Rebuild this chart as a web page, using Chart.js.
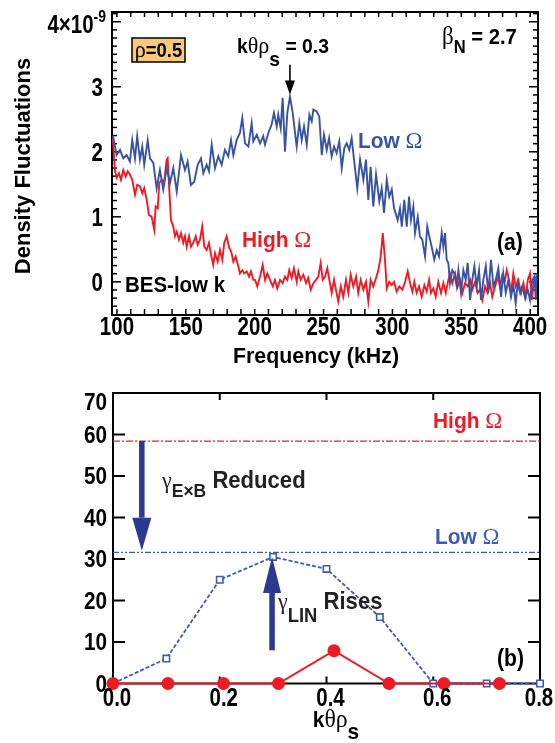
<!DOCTYPE html>
<html><head><meta charset="utf-8">
<script src="https://cdn.jsdelivr.net/npm/chart.js@4.4.1/dist/chart.umd.min.js"></script>
<style>
html,body{margin:0;padding:0;background:#fff;width:555px;height:743px;overflow:hidden}
#c1{position:absolute;left:0;top:0}
#c2{position:absolute;left:0;top:370px}
</style></head><body>
<canvas id="c1" width="555" height="370"></canvas>
<canvas id="c2" width="555" height="373"></canvas>
<script>
// ---------- Panel (a) data: density fluctuation spectra (units of 1e-9) ----------
const blueFreq = [97,99.8,102.2,104.6,107.0,109.4,111.1,113.1,114.7,116.7,
118.4,119.8,122.3,124.0,126.4,128.8,131.2,133.6,136.1,138.5,
140.9,143.4,146.5,149.4,151.3,153.7,156.1,158.6,161.0,162.7,
165.1,166.8,168.8,171.2,173.6,176.0,178.4,180.8,182.8,184.5,
186.9,189.3,191.0,193.0,195.4,197.8,199.0,201.5,203.9,206.2,
207.5,209.9,212.3,214.0,216.0,217.1,218.9,220.3,222.0,223.7,
225.6,227.6,229.3,230.5,232.4,234.1,235.8,237.8,239.7,241.4,
242.6,245.0,246.9,248.7,250.3,252.3,254.0,255.9,257.6,259.5,
261.4,263.2,265.1,266.8,268.7,270.4,272.1,274.5,276.5,278.9,
280.8,282.5,284.2,286.1,288.1,290.5,292.2,293.9,295.9,297.7,
299.5,301.2,303.8,305.5,306.8,308.6,310.4,312.1,313.5,315.2,
316.4,318.4,320.0,321.7,323.7,325.3,326.8,328.5,330.4,332.2,
333.8,335.8,337.0,338.2,339.4,340.6,341.8,343.5,344.9,346.7,
347.9,349.8,351.5,353.2,354.7,356.4,358.0,359.5,361.2,362.9,
364.3,366.0,367.8,369.6,371.6,373.3,375.0,376.9,378.9,380.5,
382.3,384.2,386.1,387.8,389.5,391.0,392.7,394.3,396.3,398.3,
399.9,401.6,403.1,404.1,404.8];
const blueVals = [2.25,1.95,2.03,1.90,1.95,1.85,2.18,1.90,2.24,1.88,
2.08,1.80,2.18,1.90,1.83,1.44,1.72,1.42,1.75,1.52,
1.75,1.39,1.95,1.72,1.85,1.49,1.54,1.80,1.90,1.67,
1.80,1.70,2.11,1.75,1.93,1.80,2.03,1.93,2.18,1.95,
2.18,2.29,2.52,2.13,2.08,2.44,2.16,2.26,2.13,2.24,
2.11,2.29,2.42,2.60,2.39,2.57,2.36,2.83,2.00,2.60,
2.85,2.60,2.29,2.08,2.44,2.18,2.39,2.11,2.57,2.47,
2.65,2.62,2.54,1.95,2.26,2.03,2.21,1.93,2.08,1.98,
2.16,1.75,2.06,2.13,2.03,2.21,1.88,1.44,1.88,1.57,
1.88,1.26,1.77,1.16,1.65,1.24,1.44,1.06,1.57,1.31,
1.42,1.13,0.95,1.13,0.85,1.26,0.85,1.31,0.95,1.16,
0.75,1.00,0.70,0.65,0.39,0.85,0.70,0.54,0.34,0.49,
0.39,0.75,0.54,0.75,0.34,0.29,-0.02,0.18,0.13,-0.07,
0.18,-0.17,0.18,0.03,0.29,-0.28,0.03,0.24,-0.07,0.18,
-0.28,0.03,0.24,-0.17,0.34,-0.07,0.03,0.21,-0.23,0.13,
-0.17,0.03,-0.23,-0.05,-0.33,-0.02,-0.17,-0.07,-0.25,-0.12,
-0.28,0.03,0.08,-0.28,0.13];
const redFreq = [97,98.5,99.8,101.5,102.9,104.6,106.3,107.8,109.4,111.1,
113.1,114.7,116.7,118.4,119.8,121.6,123.2,125.2,127.1,128.1,
129.6,130.7,132.5,134.3,136.1,136.8,138.0,139.2,140.9,142.1,
143.4,145.0,146.5,148.1,149.4,150.6,152.3,153.7,155.4,157.2,
158.6,160.3,161.9,163.4,165.1,166.8,168.3,169.9,171.2,173.1,
174.8,176.5,177.9,179.7,181.3,183.3,184.5,186.2,188.1,189.3,
191.0,192.4,194.2,195.9,197.3,199.0,
200.2,201.9,203.9,205.8,207.5,209.2,211.1,213.1,214.7,216.4,
218.4,220.3,222.0,223.7,225.1,226.9,228.5,230.5,231.7,233.4,
235.3,237.3,238.9,240.7,242.6,244.5,246.2,247.9,249.4,251.1,
252.7,254.2,255.9,257.6,259.0,260.7,262.5,264.3,266.3,268.0,
269.7,271.6,273.6,275.2,277.0,278.9,280.8,282.5,284.2,286.1,
288.1,289.8,291.5,293.0,294.6,295.9,297.7,299.5,301.2,303.1,
305.0,
307.2,309.2,311.1,312.8,314.5,315.9,317.6,319.3,321.3,323.2,
324.9,326.6,328.0,329.7,331.4,333.3,335.3,337.0,338.7,340.6,
341.8,343.5,345.5,347.4,349.1,350.8,352.7,354.7,356.4,358.0,
360.0,361.9,363.6,365.3,367.3,369.2,370.9,372.5,374.5,376.5,
378.1,379.8,381.8,383.0,384.7,386.1,387.8,389.5,391.4,393.4,
395.1,396.8,398.3,399.9,401.2,402.3,403.6];
const redVals = [2.2,1.72,1.60,1.67,1.57,1.72,1.62,1.70,1.65,1.57,
1.34,1.49,1.47,1.36,1.44,1.26,1.03,1.00,0.80,1.16,
1.13,1.52,1.57,1.54,1.88,1.90,1.42,0.95,0.85,0.70,
0.77,0.65,0.75,0.60,0.70,0.54,0.70,0.54,0.60,0.70,
0.57,0.65,0.85,0.54,0.49,0.60,0.42,0.26,0.44,0.31,
0.49,0.34,0.60,0.70,0.54,0.44,0.31,0.39,0.24,0.13,
0.18,0.13,0.16,0.08,0.16,0.03,
0.03,-0.07,0.08,0.26,0.03,0.13,0.03,-0.07,0.03,-0.10,
0.03,-0.02,0.08,0.03,0.18,0.06,0.21,0.00,0.16,0.03,
0.11,-0.02,0.06,-0.12,-0.02,0.03,0.08,0.29,0.03,0.08,
0.21,0.03,-0.17,0.03,-0.12,-0.30,-0.07,-0.23,0.03,-0.17,
0.11,-0.07,0.08,-0.17,0.03,-0.12,0.00,-0.30,0.03,-0.07,
0.06,0.18,0.39,0.75,0.34,-0.10,0.00,-0.05,0.00,-0.15,
-0.07,
-0.12,0.00,0.16,-0.02,-0.15,0.00,-0.17,-0.07,-0.23,-0.05,
-0.15,0.03,-0.17,-0.10,-0.23,0.00,-0.17,-0.02,-0.17,0.03,
0.13,-0.02,0.13,-0.07,0.03,-0.17,-0.02,-0.07,0.03,-0.12,
0.00,-0.17,-0.12,-0.28,-0.07,-0.17,-0.02,-0.23,-0.07,0.08,
-0.07,0.11,0.03,0.18,0.03,-0.17,0.13,-0.07,0.03,-0.17,
-0.02,-0.23,0.03,0.13,-0.28,-0.07,0.08];
const freqTicks = [100,150,200,250,300,350,400];
const densTicks = [0,1,2,3];
const densTopTick = 4;           // labelled "4×10^-9"
const peakFreq = 225.6;          // kθρs = 0.3 arrow position
const peakArrow = [3.34, 2.88];  // tail, tip

// ---------- Panel (b) data: growth rates vs kθρs ----------
const kLow = [0,0.1,0.2,0.3,0.4,0.5,0.6,0.7,0.8];
const gammaLow = [0,6,25,30.5,27.6,16,0,0,0];
const kHigh = [0,0.103,0.207,0.31,0.414,0.517,0.62,0.724];
const gammaHigh = [0,0,0,0,7.9,0,0,0];
const exbHigh = 58.4;
const exbLow = 31.6;
const kTicks = [0.0,0.2,0.4,0.6,0.8];
const gammaTicks = [0,10,20,30,40,50,60,70];
const exbArrow = {k:0.054, from:58.4, to:32.0};
const linArrow = {k:0.298, from:8.0, to:30.5};

// ---------- helpers ----------
const SANS = '"Liberation Sans", Arial, Helvetica, sans-serif';
const SERIF = '"Liberation Serif", "Times New Roman", serif';
function fnt(p){ return (p.serif ? '' : 'bold ') + p.s + 'px ' + (p.serif ? SERIF : SANS); }
function runs(ctx, parts, x, y, align, color, sx){
  sx = sx || 1;
  let w = 0; const ms = [];
  for (const p of parts){ ctx.font = fnt(p); const m = ctx.measureText(p.t).width * (p.sx || sx); ms.push(m); w += m; }
  let cx = align === 'center' ? x - w/2 : (align === 'right' ? x - w : x);
  parts.forEach((p,i)=>{
    ctx.save(); ctx.font = fnt(p); ctx.fillStyle = p.c || color || '#000';
    ctx.textAlign = 'left'; ctx.textBaseline = 'alphabetic';
    ctx.translate(cx, y + (p.dy || 0)); ctx.scale(p.sx || sx, 1);
    ctx.fillText(p.t, 0, 0); ctx.restore(); cx += ms[i];
  });
}
function seg(ctx,x1,y1,x2,y2){ ctx.beginPath(); ctx.moveTo(x1,y1); ctx.lineTo(x2,y2); ctx.stroke(); }
function blockArrow(ctx, x, yTail, yTip, shaftW, headW, headL, color){
  const dir = Math.sign(yTip - yTail);
  const hb = yTip - dir*headL;
  ctx.fillStyle = color;
  ctx.fillRect(x - shaftW/2, Math.min(yTail,hb), shaftW, Math.abs(hb - yTail));
  ctx.beginPath(); ctx.moveTo(x - headW/2, hb); ctx.lineTo(x + headW/2, hb); ctx.lineTo(x, yTip); ctx.closePath(); ctx.fill();
}
const BLUE = '#3953a4', RED = '#ed1c24', NAVY = '#2b3990', BLUE2 = '#3d5cb3';

// ---------- Panel (a) ----------
const decoA = {
  id: 'decoA',
  beforeDatasetsDraw(chart){
    const {ctx, chartArea:a, scales:{x, y}} = chart;
    ctx.save(); ctx.strokeStyle = '#000';
    ctx.lineWidth = 1.5;
    for (let f = 100; f <= 400; f += 10){
      const px = x.getPixelForValue(f);
      seg(ctx, px, a.bottom, px, a.bottom - 6);
      seg(ctx, px, a.top, px, a.top + 5);
    }
    for (let i = -4; i <= 33; i++){
      const py = y.getPixelForValue(i/8);
      if (py < a.top + 1 || py > a.bottom - 1) continue;
      const L = (i % 8 === 0) ? 9 : 5;
      seg(ctx, a.left, py, a.left + L, py);
      seg(ctx, a.right, py, a.right - L, py);
    }
    ctx.lineWidth = 2;
    ctx.strokeRect(a.left, a.top, a.right - a.left, a.bottom - a.top);
    ctx.restore();
  },
  afterDatasetsDraw(chart){
    const {ctx, chartArea:a, scales:{x, y}} = chart;
    ctx.save();
    for (const f of freqTicks) runs(ctx, [{t:String(f), s:25}], x.getPixelForValue(f), a.bottom + 20, 'center', '#000', 0.82);
    for (const v of densTicks) runs(ctx, [{t:String(v), s:25}], a.left - 9, y.getPixelForValue(v) + 9, 'right', '#000', 0.82);
    runs(ctx, [{t:String(densTopTick) + '\u00d710', s:25}, {t:'-9', s:17, dy:-11}], a.left - 6, y.getPixelForValue(densTopTick) + 11, 'right', '#000', 0.82);
    runs(ctx, [{t:'Frequency (kHz)', s:22}], 316, 363, 'center', '#000', 0.97);
    ctx.save(); ctx.translate(30, 166); ctx.rotate(-Math.PI/2);
    runs(ctx, [{t:'Density Fluctuations', s:22}], 0, 0, 'center', '#000', 1.0);
    ctx.restore();
    ctx.fillStyle = '#f9c97b'; ctx.fillRect(132, 38, 53, 24);
    ctx.strokeStyle = '#000'; ctx.lineWidth = 1.5; ctx.strokeRect(132, 38, 53, 24);
    runs(ctx, [{t:'\u03c1', s:24, serif:true}, {t:'=0.5', s:20}], 158.5, 57, 'center', '#000', 0.92);
    runs(ctx, [{t:'k', s:21}, {t:'\u03b8\u03c1', s:24, serif:true}, {t:'s', s:21, dy:13}, {t:' = 0.3', s:21}], 237, 53, 'left', '#000', 0.92);
    const ax = x.getPixelForValue(peakFreq), y0 = y.getPixelForValue(peakArrow[0]), y1 = y.getPixelForValue(peakArrow[1]);
    ctx.strokeStyle = '#000'; ctx.lineWidth = 1.6; seg(ctx, ax, y0, ax, y1 - 12);
    ctx.fillStyle = '#000'; ctx.beginPath(); ctx.moveTo(ax - 5, y1 - 14); ctx.lineTo(ax + 5, y1 - 14); ctx.lineTo(ax, y1); ctx.closePath(); ctx.fill();
    runs(ctx, [{t:'\u03b2', s:25, serif:true}, {t:'N', s:18, dy:9}, {t:' = 2.7', s:22}], 442, 44, 'left', '#000', 0.92);
    runs(ctx, [{t:'Low ', s:22}, {t:'\u03a9', s:24, serif:true}], 358, 148, 'left', BLUE, 0.95);
    runs(ctx, [{t:'High ', s:22}, {t:'\u03a9', s:24, serif:true}], 242, 247, 'left', RED, 0.95);
    runs(ctx, [{t:'(a)', s:23}], 497, 250, 'left', '#000', 0.92);
    runs(ctx, [{t:'BES-low k', s:22}], 125, 292, 'left', '#000', 0.93);
    ctx.restore();
  }
};

new Chart(document.getElementById('c1'), {
  type: 'line',
  data: { datasets: [
    { data: blueFreq.map((f,i)=>({x:f, y:blueVals[i]})), borderColor: BLUE, borderWidth: 1.9, pointRadius: 0, tension: 0 },
    { data: redFreq.map((f,i)=>({x:f, y:redVals[i]})), borderColor: RED, borderWidth: 1.9, pointRadius: 0, tension: 0 }
  ]},
  options: {
    responsive: false, animation: false, devicePixelRatio: 1,
    layout: { padding: { left: 112, right: 17, top: 12, bottom: 55 } },
    scales: {
      x: { type: 'linear', min: 96.4, max: 405.7, display: false },
      y: { type: 'linear', min: -0.51, max: 4.15, display: false }
    },
    plugins: { legend: { display: false }, tooltip: { enabled: false } }
  },
  plugins: [decoA]
});

// ---------- Panel (b) ----------
const decoB = {
  id: 'decoB',
  beforeDatasetsDraw(chart){
    const {ctx, chartArea:a, scales:{x, y}} = chart;
    ctx.save(); ctx.strokeStyle = '#000'; ctx.lineWidth = 2;
    for (const k of kTicks){
      const px = x.getPixelForValue(k);
      if (px <= a.left + 1 || px >= a.right - 1) continue;
      seg(ctx, px, a.bottom, px, a.bottom - 7);
      seg(ctx, px, a.top, px, a.top + 7);
    }
    for (const g of gammaTicks){
      const py = y.getPixelForValue(g);
      if (py <= a.top + 1 || py >= a.bottom - 1) continue;
      seg(ctx, a.left, py, a.left + 12, py);
      seg(ctx, a.right, py, a.right - 12, py);
    }
    ctx.lineWidth = 2;
    ctx.strokeRect(a.left, a.top, a.right - a.left, a.bottom - a.top);
    ctx.restore();
  },
  afterDatasetsDraw(chart){
    const {ctx, chartArea:a, scales:{x, y}} = chart;
    ctx.save();
    for (const k of kTicks){
      const px = Math.min(x.getPixelForValue(k) + 4, 539);
      runs(ctx, [{t:k.toFixed(1), s:25}], px, a.bottom + 22, 'center', '#000', 0.82);
    }
    for (const g of gammaTicks){
      const py = Math.max(y.getPixelForValue(g), a.top + 8.5);
      runs(ctx, [{t:String(g), s:23}], a.left - 6, py + 8, 'right', '#000', 0.9);
    }
    runs(ctx, [{t:'k', s:22}, {t:'\u03b8\u03c1', s:25, serif:true}, {t:'s', s:22, dy:12}], 336, 357, 'center', '#000', 0.95);
    blockArrow(ctx, x.getPixelForValue(exbArrow.k), y.getPixelForValue(exbArrow.from), y.getPixelForValue(exbArrow.to), 5.5, 19, 33, NAVY);
    blockArrow(ctx, x.getPixelForValue(linArrow.k), y.getPixelForValue(linArrow.from), y.getPixelForValue(linArrow.to), 5.5, 18, 36, NAVY);
    runs(ctx, [{t:'High ', s:22}, {t:'\u03a9', s:24, serif:true}], 433, 58, 'left', RED, 0.95);
    runs(ctx, [{t:'Low ', s:22}, {t:'\u03a9', s:24, serif:true}], 435, 174, 'left', BLUE2, 0.95);
    runs(ctx, [{t:'\u03b3', s:24, serif:true}, {t:'E\u00d7B', s:19, dy:9}, {t:' Reduced', s:24}], 162, 118, 'left', '#222', 0.92);
    runs(ctx, [{t:'\u03b3', s:24, serif:true}, {t:'LIN', s:20, dy:13}, {t:' Rises', s:24}], 278, 239, 'left', '#222', 0.92);
    runs(ctx, [{t:'(b)', s:23}], 497, 296, 'left', '#000', 0.92);
    ctx.restore();
  }
};

new Chart(document.getElementById('c2'), {
  type: 'line',
  data: { datasets: [
    { data: kHigh.map((k,i)=>({x:k, y:gammaHigh[i]})), borderColor: RED, borderWidth: 2, pointRadius: 5.5, pointStyle: 'circle', pointBackgroundColor: RED, pointBorderColor: RED, tension: 0, clip: false },
    { data: kLow.map((k,i)=>({x:k, y:gammaLow[i]})), borderColor: BLUE2, borderWidth: 1.8, borderDash: [4,2], pointRadius: 4.5, pointStyle: 'rect', pointBackgroundColor: '#fff', pointBorderColor: BLUE2, pointBorderWidth: 1.6, tension: 0, clip: false },
    { data: [{x:0, y:exbHigh}, {x:0.8, y:exbHigh}], borderColor: RED, borderWidth: 1.4, borderDash: [7,2,2,2], pointRadius: 0 },
    { data: [{x:0, y:exbLow}, {x:0.8, y:exbLow}], borderColor: BLUE2, borderWidth: 1.4, borderDash: [6,2,2,2,2,2], pointRadius: 0 }
  ]},
  options: {
    responsive: false, animation: false, devicePixelRatio: 1,
    layout: { padding: { left: 113, right: 15, top: 23, bottom: 59.5 } },
    scales: {
      x: { type: 'linear', min: 0, max: 0.8, display: false },
      y: { type: 'linear', min: 0, max: 70, display: false }
    },
    plugins: { legend: { display: false }, tooltip: { enabled: false } }
  },
  plugins: [decoB]
});
</script>
</body></html>
